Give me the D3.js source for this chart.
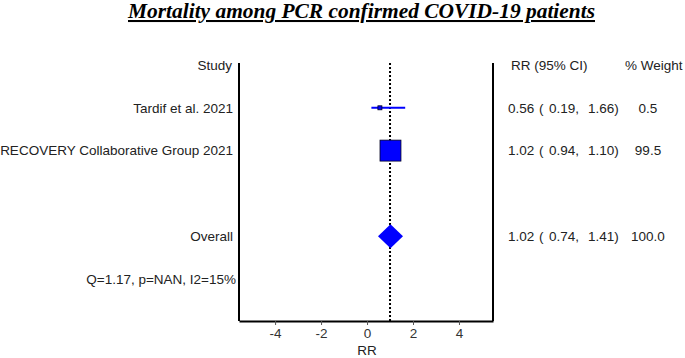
<!DOCTYPE html>
<html>
<head>
<meta charset="utf-8">
<script src="https://d3js.org/d3.v7.min.js"></script>
<style>
  body { margin: 0; background: #fff; }
  text { font-family: "Liberation Sans", Arial, sans-serif; fill: #222; }
</style>
</head>
<body>
<script>
// study rows
var studies = ["Tardif et al. 2021", "RECOVERY Collaborative Group 2021"];
var rr = [0.56, 1.02];
var lower = [0.19, 0.94];
var upper = [1.66, 1.10];
var weight = [0.5, 99.5];

// pooled
var overallRR = 1.02, overallLo = 0.74, overallHi = 1.41, overallW = 100.0;
var hetText = "Q=1.17, p=NAN, I2=15%";

var xTicks = [-4, -2, 0, 2, 4];

var width = 685, height = 358;
var fs = "13.5px";

var svg = d3.select("body").append("svg")
    .attr("width", width)
    .attr("height", height);

// title
svg.append("text")
    .attr("x", 128)
    .attr("y", 18)
    .attr("textLength", 467)
    .attr("lengthAdjust", "spacingAndGlyphs")
    .style("font-family", "'Liberation Serif', 'Times New Roman', serif")
    .style("font-size", "20.5px")
    .style("font-weight", "bold")
    .style("font-style", "italic")
    .style("text-decoration", "underline")
    .style("fill", "#000")
    .text("Mortality among PCR confirmed COVID-19 patients");

var x = d3.scaleLinear()
    .domain([-5.57, 5.48])
    .range([239, 493]);

// row 0 = header, 1..2 studies, 4 overall, 5 heterogeneity
var y = d3.scaleLinear()
    .domain([0, 5])
    .range([65, 279]);

var plotTop = 63, plotBottom = 321;

// frame
svg.append("line")
    .attr("x1", x.range()[0]).attr("x2", x.range()[0])
    .attr("y1", plotTop).attr("y2", plotBottom)
    .attr("stroke", "#000").attr("stroke-width", 2);
svg.append("line")
    .attr("x1", x.range()[1]).attr("x2", x.range()[1])
    .attr("y1", plotTop).attr("y2", plotBottom)
    .attr("stroke", "#000").attr("stroke-width", 2);

// reference line at 1
svg.append("line")
    .attr("x1", x(1)).attr("x2", x(1))
    .attr("y1", plotTop).attr("y2", plotBottom)
    .attr("stroke", "#000").attr("stroke-width", 2)
    .attr("stroke-dasharray", "2,2");

// x axis
var axis = svg.append("g")
    .attr("transform", "translate(0," + plotBottom + ")")
    .call(d3.axisBottom(x).tickValues(xTicks).tickSize(4).tickSizeOuter(0).tickPadding(3)
        .tickFormat(function(d) { return String(d); }));
axis.select(".domain").attr("stroke", "#000").attr("stroke-width", 2);
axis.selectAll(".tick line").attr("stroke", "#555");
axis.selectAll(".tick text")
    .style("font-family", "'Liberation Sans', Arial, sans-serif")
    .style("font-size", fs)
    .style("fill", "#333");

svg.append("text")
    .attr("x", x(0))
    .attr("y", 355)
    .attr("text-anchor", "middle")
    .style("font-size", fs)
    .text("RR");

// headers
svg.append("text").attr("x", 232).attr("y", y(0)).attr("dy", "0.35em")
    .attr("text-anchor", "end").style("font-size", fs).text("Study");
svg.append("text").attr("x", 511).attr("y", y(0)).attr("dy", "0.35em")
    .style("font-size", fs).text("RR (95% CI)");
svg.append("text").attr("x", 625).attr("y", y(0)).attr("dy", "0.35em")
    .style("font-size", fs).text("% Weight");

// RR ( lo, hi) laid out in fixed columns like the original
function ciCells(sel, r, l, u) {
    sel.append("tspan").attr("x", 508).text(r.toFixed(2));
    sel.append("tspan").attr("x", 539).text("(");
    sel.append("tspan").attr("x", 549).text(l.toFixed(2) + ",");
    sel.append("tspan").attr("x", 588).text(u.toFixed(2) + ")");
}

var rows = studies.map(function(s, i) {
    return {name: s, rr: rr[i], lo: lower[i], hi: upper[i], w: weight[i], row: i + 1};
});

var g = svg.selectAll(".study")
    .data(rows)
    .enter().append("g")
    .attr("class", "study");

g.append("text")
    .attr("x", 233).attr("y", function(d) { return y(d.row); })
    .attr("dy", "0.35em").attr("text-anchor", "end")
    .style("font-size", fs)
    .text(function(d) { return d.name; });

g.append("line")
    .attr("x1", function(d) { return x(d.lo); })
    .attr("x2", function(d) { return x(d.hi); })
    .attr("y1", function(d) { return y(d.row); })
    .attr("y2", function(d) { return y(d.row); })
    .attr("stroke", "#0000ff").attr("stroke-width", 2);

var boxSize = d3.scaleSqrt().domain([0, 100]).range([2, 21]);

g.append("rect")
    .attr("x", function(d) { return x(d.rr) - Math.max(4, boxSize(d.w)) / 2; })
    .attr("y", function(d) { return y(d.row) - Math.max(4, boxSize(d.w)) / 2; })
    .attr("width", function(d) { return Math.max(4, boxSize(d.w)); })
    .attr("height", function(d) { return Math.max(4, boxSize(d.w)); })
    .attr("fill", "#0000ff")
    .attr("stroke", "#000022").attr("stroke-width", 0.8);

g.each(function(d) {
    var t = d3.select(this).append("text")
        .attr("y", y(d.row)).attr("dy", "0.35em").style("font-size", fs);
    ciCells(t, d.rr, d.lo, d.hi);
});

g.append("text")
    .attr("x", 648).attr("y", function(d) { return y(d.row); })
    .attr("dy", "0.35em").attr("text-anchor", "middle").style("font-size", fs)
    .text(function(d) { return d.w.toFixed(1); });

// overall
var oy = y(4), ox = x(overallRR);
svg.append("text")
    .attr("x", 233).attr("y", oy).attr("dy", "0.35em")
    .attr("text-anchor", "end").style("font-size", fs).text("Overall");
svg.append("path")
    .attr("d", "M" + (ox - 12.5) + "," + oy + "L" + ox + "," + (oy - 12) +
               "L" + (ox + 12.5) + "," + oy + "L" + ox + "," + (oy + 12) + "Z")
    .attr("fill", "#0000ff");
var ot = svg.append("text")
    .attr("y", oy).attr("dy", "0.35em").style("font-size", fs);
ciCells(ot, overallRR, overallLo, overallHi);
svg.append("text")
    .attr("x", 648).attr("y", oy).attr("dy", "0.35em").attr("text-anchor", "middle")
    .style("font-size", fs).text(overallW.toFixed(1));

svg.append("text")
    .attr("x", 236).attr("y", y(5)).attr("dy", "0.35em")
    .attr("text-anchor", "end").style("font-size", fs).text(hetText);
</script>
</body>
</html>
